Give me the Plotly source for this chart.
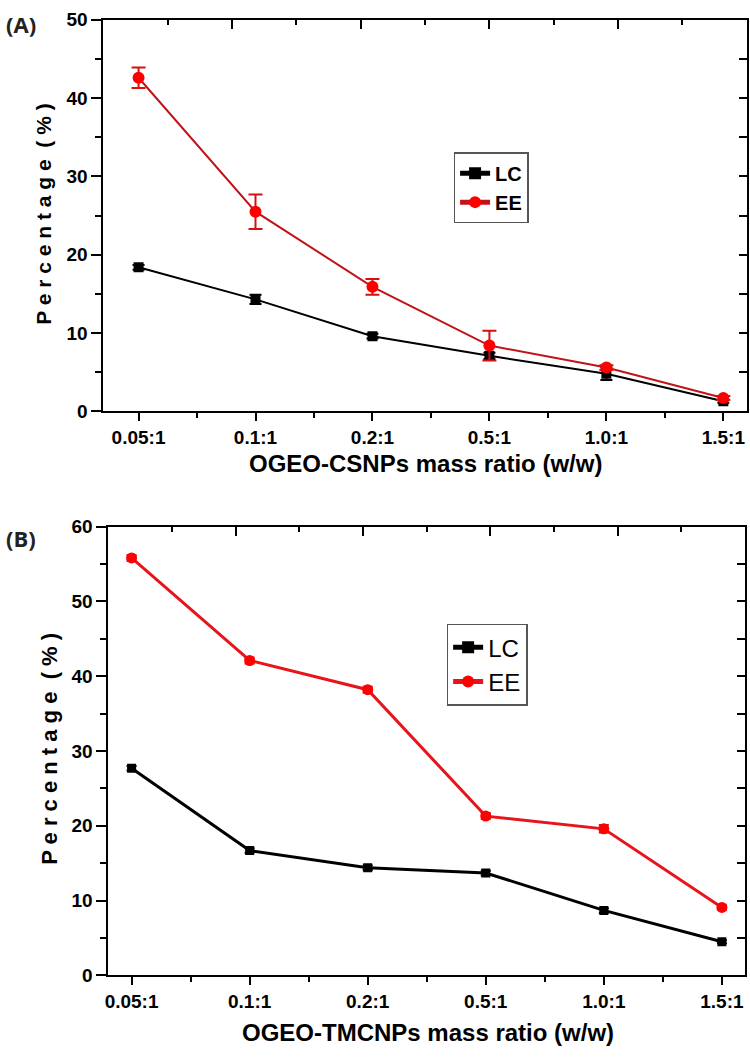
import plotly.graph_objects as go

# ratios on the x axis (same for both panels)
ratios = ['0.05:1', '0.1:1', '0.2:1', '0.5:1', '1.0:1', '1.5:1']

# panel A  (OGEO-CSNPs)
lc_a = [18.4, 14.3, 9.6, 7.1, 4.8, 1.3]
lc_a_err = [0.3, 0.6, 0.3, 0.4, 0.8, 0.2]
ee_a = [42.6, 25.5, 15.9, 8.4, 5.6, 1.7]
ee_a_err = [1.3, 2.2, 1.0, 1.9, 0.3, 0.25]

# panel B  (OGEO-TMCNPs)
lc_b = [27.7, 16.7, 14.4, 13.7, 8.7, 4.5]
lc_b_err = [0.3, 0.3, 0.3, 0.3, 0.3, 0.2]
ee_b = [55.8, 42.1, 38.2, 21.3, 19.6, 9.1]
ee_b_err = [0.4, 0.4, 0.4, 0.4, 0.5, 0.3]

xpos = list(range(len(ratios)))
xminor = [i + 0.5 for i in xpos[:-1]]
W, H = 750, 1060
FONT = 'Liberation Sans, Arial, sans-serif'

fig = go.Figure()

# ---- panel A
fig.add_trace(go.Scatter(
    x=xpos, y=lc_a, name='<b>LC</b>', mode='lines+markers',
    line=dict(color='black', width=2),
    marker=dict(symbol='square', size=10, color='black'),
    error_y=dict(type='data', array=lc_a_err, color='black', thickness=2, width=6),
    xaxis='x', yaxis='y', legend='legend'))
fig.add_trace(go.Scatter(
    x=xpos, y=ee_a, name='<b>EE</b>', mode='lines+markers',
    line=dict(color='#c01418', width=2),
    marker=dict(symbol='circle', size=12, color='#ff0000'),
    error_y=dict(type='data', array=ee_a_err, color='#d41010', thickness=2, width=7),
    xaxis='x', yaxis='y', legend='legend'))

# ---- panel B
fig.add_trace(go.Scatter(
    x=xpos, y=lc_b, name='LC', mode='lines+markers',
    line=dict(color='black', width=3),
    marker=dict(symbol='square', size=9, color='black'),
    error_y=dict(type='data', array=lc_b_err, color='black', thickness=2, width=5),
    xaxis='x2', yaxis='y2', legend='legend2'))
fig.add_trace(go.Scatter(
    x=xpos, y=ee_b, name='EE', mode='lines+markers',
    line=dict(color='#e8141b', width=3),
    marker=dict(symbol='circle', size=11, color='#ff0000'),
    error_y=dict(type='data', array=ee_b_err, color='#e01010', thickness=2, width=5),
    xaxis='x2', yaxis='y2', legend='legend2'))

# empty traces so the top / right inner-tick axes get drawn
fig.add_trace(go.Scatter(x=[], y=[], xaxis='x3', yaxis='y3', showlegend=False, hoverinfo='skip'))
fig.add_trace(go.Scatter(x=[], y=[], xaxis='x4', yaxis='y4', showlegend=False, hoverinfo='skip'))

tick_font = dict(family=FONT, size=19, color='black')


def xax(dom, anchor, rng):
    return dict(domain=dom, anchor=anchor, range=rng, tickmode='array',
                tickvals=xpos, ticktext=['<b>%s</b>' % r for r in ratios],
                ticks='outside', ticklen=8, tickwidth=2, tickcolor='black',
                minor=dict(tickmode='array', tickvals=xminor, ticks='outside',
                           ticklen=5, tickwidth=2, tickcolor='black'),
                showline=True, linewidth=2, linecolor='black', mirror=True,
                showgrid=False, zeroline=False, tickfont=tick_font,
                ticklabeloverflow='allow', fixedrange=True)


def yax(dom, anchor, rng):
    return dict(domain=dom, anchor=anchor, range=rng, dtick=10, tick0=0,
                ticks='outside', ticklen=10, tickwidth=2, tickcolor='black',
                minor=dict(dtick=5, tick0=0, ticks='outside', ticklen=6,
                           tickwidth=2, tickcolor='black'),
                showline=True, linewidth=2, linecolor='black', mirror=True,
                showgrid=False, zeroline=False, tickfont=tick_font,
                tickprefix='<b>', ticksuffix='</b>', fixedrange=True)


def topax(over, anchor):
    return dict(overlaying=over, anchor=anchor, side='top', range=[0, 1],
                dtick=0.2, tick0=0, ticks='inside', ticklen=9, tickwidth=2,
                tickcolor='black', showticklabels=False, showline=False,
                showgrid=False, zeroline=False, fixedrange=True,
                minor=dict(dtick=0.1, tick0=0, ticks='inside', ticklen=5,
                           tickwidth=2, tickcolor='black'))


def rightax(over, anchor, rng):
    return dict(overlaying=over, anchor=anchor, side='right', range=rng,
                dtick=5, tick0=0, ticks='inside', ticklen=8, tickwidth=2,
                tickcolor='black', showticklabels=False, showline=False,
                showgrid=False, zeroline=False, fixedrange=True)


a_x = [100 / W, 746.7 / W]
a_y = [1 - 409.5 / H, 1 - 10 / H]
b_x = [105 / W, 745 / W]
b_y = [1 - 985 / H, 1 - 527 / H]

fig.update_layout(
    width=W, height=H, autosize=False,
    margin=dict(l=0, r=0, t=0, b=0),
    paper_bgcolor='white', plot_bgcolor='white',
    font=dict(family=FONT, color='black'),
    xaxis=xax(a_x, 'y', [-0.30, 5.2]),
    yaxis=yax(a_y, 'x', [0, 50]),
    xaxis2=xax(b_x, 'y2', [-0.196, 5.196]),
    yaxis2=yax(b_y, 'x2', [0, 60]),
    xaxis3=topax('x', 'y3'),
    yaxis3=rightax('y', 'x3', [0, 50]),
    xaxis4=topax('x2', 'y4'),
    yaxis4=rightax('y2', 'x4', [0, 60]),
    legend=dict(x=452 / W, y=1 - 145 / H, xanchor='left', yanchor='top',
                bgcolor='white', bordercolor='#555555', borderwidth=1.5,
                font=dict(family=FONT, size=20, color='black'),
                tracegroupgap=0, itemsizing='constant'),
    legend2=dict(x=445 / W, y=1 - 626 / H, xanchor='left', yanchor='top',
                 bgcolor='white', bordercolor='#555555', borderwidth=1.5,
                 font=dict(family=FONT, size=24, color='black'),
                 tracegroupgap=0, itemsizing='constant'),
    showlegend=True,
)

ann = [
    dict(text='<b>(A)</b>', x=0, y=1 - 14 / H, xanchor='left', yanchor='middle',
         font=dict(family='Open Sans', size=22, color='#222222')),
    dict(text='<b>(B)</b>', x=0, y=1 - 539 / H, xanchor='left', yanchor='middle',
         font=dict(family='Open Sans', size=22, color='#222222')),
    dict(text='<b>P e r c e n t a g e  ( % )</b>', x=40 / W, y=1 - 208 / H,
         textangle=-90, xanchor='center', yanchor='middle',
         font=dict(family=FONT, size=21)),
    dict(text='<b>P e r c e n t a g e  ( % )</b>', x=45 / W, y=1 - 754 / H,
         textangle=-90, xanchor='center', yanchor='middle',
         font=dict(family=FONT, size=22)),
    dict(text='<b>OGEO-CSNPs mass ratio (w/w)</b>', x=424 / W, y=1 - 463 / H,
         xanchor='center', yanchor='middle', font=dict(family=FONT, size=24)),
    dict(text='<b>OGEO-TMCNPs mass ratio (w/w)</b>', x=426 / W, y=1 - 1043 / H,
         xanchor='center', yanchor='middle', font=dict(family=FONT, size=24)),
]
for a in ann:
    a.update(xref='paper', yref='paper', showarrow=False)
fig.update_layout(annotations=ann)

# default page has an 8px body margin; drop it so the figure fills the window
fig.write_html("out.html", config={'displayModeBar': False},
               post_script="document.body.style.margin='0';document.body.style.overflow='hidden';")
